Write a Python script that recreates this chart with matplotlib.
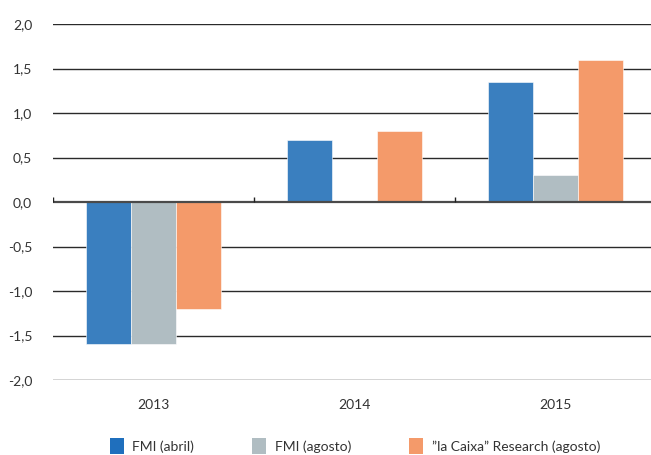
import matplotlib.pyplot as plt
import numpy as np
from matplotlib.patches import Patch

years = ["2013", "2014", "2015"]
series_names = ["FMI (abril)", "FMI (agosto)", "\u201dla Caixa\u201d Research (agosto)"]
fmi_abril = [-1.6, 0.7, 1.35]
fmi_agosto = [-1.6, np.nan, 0.3]
caixa_agosto = [-1.2, 0.8, 1.6]
y_ticks = [-2.0, -1.5, -1.0, -0.5, 0.0, 0.5, 1.0, 1.5, 2.0]

colors = ["#3a7fbf", "#b0bdc2", "#f49a6a"]
legend_colors = ["#1f6fbd", "#b0bdc2", "#f49a6a"]
text_color = "#333333"

plt.rcParams["font.family"] = ["Lato", "DejaVu Sans"]

fig = plt.figure(figsize=(6.51, 4.55), dpi=100)
ax = fig.add_axes([53 / 651, 75 / 455, 598 / 651, 356 / 455])

x = np.arange(len(years))
width = 0.224
for i, vals in enumerate([fmi_abril, fmi_agosto, caixa_agosto]):
    ax.bar(x + (i - 1) * width, vals, width, color=colors[i],
           edgecolor="white", linewidth=0.4, zorder=3)

ax.set_xlim(-0.5, 2.5 - 5 / 201)
ax.set_ylim(-2.0, 2.0)
ax.set_yticks(y_ticks)
ax.set_yticklabels([f"{v:.1f}".replace(".", ",") for v in y_ticks])
ax.set_xticks(x)
ax.set_xticklabels(years)

for v in y_ticks:
    if v == 0.0:
        continue
    ax.axhline(v, color="#2a2a2a", linewidth=1.0, zorder=1)
ax.axhline(0.0, color="#4a4a4a", linewidth=1.6, zorder=4)
ax.vlines([-0.5, 0.5, 1.5], 0.0, 0.06, color="#222222", linewidth=1.0, zorder=4)

for s in ax.spines.values():
    s.set_visible(False)
ax.tick_params(axis="both", length=0, labelsize=10, colors=text_color)
ax.tick_params(axis="y", pad=15)
ax.tick_params(axis="x", pad=14)

handles = [Patch(facecolor=c, edgecolor="none") for c in legend_colors]
fig.legend(handles, series_names, loc="center", bbox_to_anchor=(355 / 651, 1 - 446 / 455),
           ncol=3, frameon=False, fontsize=10, handlelength=1.0, handleheight=1.3,
           handletextpad=0.6, columnspacing=4.2, labelcolor=text_color)

fig.savefig("out.png", dpi=100)
